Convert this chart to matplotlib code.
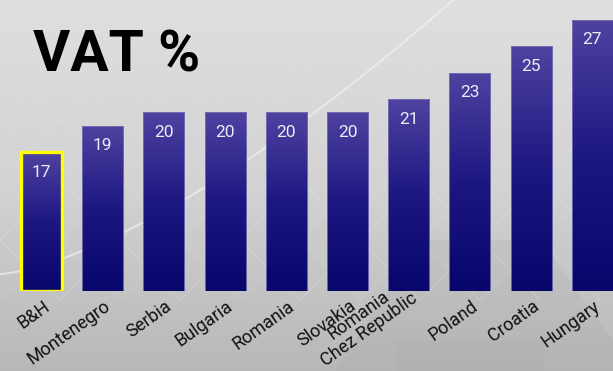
import numpy as np
import matplotlib
matplotlib.use("Agg")
import matplotlib.pyplot as plt
import matplotlib.transforms as mtransforms
from matplotlib.colors import LinearSegmentedColormap
from matplotlib.patches import Polygon

plt.rcParams["font.family"] = ["Roboto", "DejaVu Sans"]

# data
countries = ["B&H", "Montenegro", "Serbia", "Bulgaria", "Romania", "Slovakia",
             "Romania\nChez Republic", "Poland", "Croatia", "Hungary"]
vat = [17, 19, 20, 20, 20, 20, 21, 23, 25, 27]
highlight = "B&H"

W, H = 613, 371
fig = plt.figure(figsize=(W / 100, H / 100), dpi=100)

# background: grey gradient, faint shapes, light arc
bg = fig.add_axes([0, 0, 1, 1], zorder=0)
bg.set_xlim(0, W)
bg.set_ylim(H, 0)
bg.axis("off")
grad = np.linspace(0, 1, 256).reshape(-1, 1)
bg_cmap = LinearSegmentedColormap.from_list("bg", ["#dfdfdf", "#d3d3d3", "#b8b8b8"])
bg.imshow(grad, cmap=bg_cmap, extent=[0, W, H, 0], aspect="auto")
bg.add_patch(Polygon([(335, H), (420, 240), (540, 240), (613, 340), (613, H)],
                     closed=True, fc="#a0a0a0", ec="none", alpha=0.15))
bg.add_patch(Polygon([(395, H), (395, 340), (545, 340), (545, H)],
                     closed=True, fc="#a0a0a0", ec="none", alpha=0.12))
t = np.linspace(0, 1, 100)
arc_x = 453 * t
arc_y = 274 - 274 * t ** 1.45
bg.plot(arc_x, arc_y, color="#f2f2f2", lw=1.4, alpha=0.7)
for k in range(-8, 14):
    bg.plot([k * 60, k * 60 + 300], [0, 300], color="#e6e6e6", lw=0.5, alpha=0.4)
    bg.plot([k * 60, k * 60 - 300], [0, 300], color="#e6e6e6", lw=0.5, alpha=0.4)

# main axes
ax = fig.add_axes([0, 80 / H, 1, 291 / H], zorder=1)
ax.patch.set_alpha(0)
ax.axis("off")

x = np.arange(len(countries))
bar_cmap = LinearSegmentedColormap.from_list("bar", ["#07066b", "#1d1781", "#4f43a1"])
y0 = 6.5
bars = ax.bar(x, np.array(vat) - y0, bottom=y0, width=0.67,
              facecolor="none", edgecolor="#7a74b6", linewidth=0.6, zorder=3)
for b, name, v in zip(bars, countries, vat):
    x0 = b.get_x()
    im = ax.imshow(grad[::-1], cmap=bar_cmap, origin="upper",
                   extent=[x0, x0 + b.get_width(), y0, v], aspect="auto", zorder=2)
    im.set_clip_path(b)
    if name == highlight:
        b.set_edgecolor("#ffff00")
        b.set_linewidth(2.4)
    ax.annotate(str(v), (b.get_x() + b.get_width() / 2, v), xytext=(0, -9),
                textcoords="offset points", ha="center", va="top",
                color="#ececf4", fontsize=12.5, zorder=4)

ax.set_xlim(-0.678, 9.338)
ax.set_ylim(y0, y0 + 291 / 13.23)

for i, name in enumerate(countries):
    tr = ax.transData
    if "\n" in name:
        # two-line label sits a bit higher
        tr = mtransforms.offset_copy(tr, fig=fig, x=-5, y=15, units="dots")
    ax.text(i + 0.1, y0 - 1.0, name, rotation=35.5, rotation_mode="anchor",
            ha="right", va="center", multialignment="center", linespacing=1.0,
            fontsize=13, color="#111111", transform=tr)

fig.text(33 / W, 1 - 72 / H, "VAT %", fontsize=41, fontweight="bold",
         color="#000000", ha="left", va="baseline")

fig.savefig("out.png", dpi=100)
